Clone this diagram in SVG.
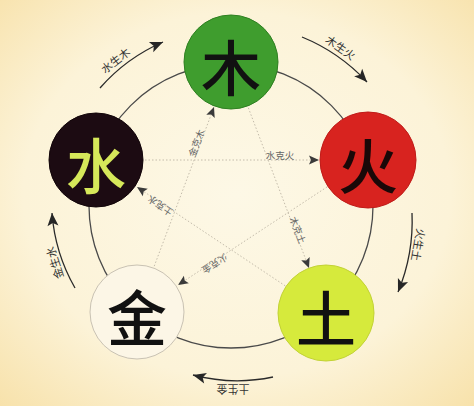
<svg xmlns="http://www.w3.org/2000/svg" width="474" height="406" viewBox="0 0 474 406">
<defs>
<radialGradient id="bg" cx="50%" cy="48%" r="75%">
<stop offset="0" stop-color="#fdf8e6"/>
<stop offset="0.6" stop-color="#fcf3d8"/>
<stop offset="1" stop-color="#f7e0a6"/>
</radialGradient>
<marker id="ah" viewBox="-14 -6 15 12" refX="0" refY="0" markerWidth="15" markerHeight="12" markerUnits="userSpaceOnUse" orient="auto">
<path d="M0,0 L-13,-5.5 L-10,0 L-13,5.5 Z" fill="#262626"/>
</marker>
<marker id="ahs" viewBox="-11 -5 12 10" refX="0" refY="0" markerWidth="12" markerHeight="10" markerUnits="userSpaceOnUse" orient="auto">
<path d="M0,0 L-10,-4.5 L-8,0 L-10,4.5 Z" fill="#3a3a3a"/>
</marker>
</defs>
<style>
.ring{fill:none;stroke:#4a4a4a;stroke-width:1.3}
.gen{fill:none;stroke:#2a2a2a;stroke-width:1.3;marker-end:url(#ah)}
.ctl{fill:none;stroke:#c4bcab;stroke-width:1;stroke-dasharray:1.5 2;marker-end:url(#ahs)}
.gl{font-family:"Noto Sans CJK SC","Noto Sans CJK JP",sans-serif;font-size:11px;fill:#333;text-anchor:middle;dominant-baseline:central}
.cl{font-family:"Noto Sans CJK SC","Noto Sans CJK JP",sans-serif;font-size:9.5px;fill:#666;text-anchor:middle;dominant-baseline:central}
.big{font-family:"Noto Sans CJK SC","Noto Sans CJK JP",sans-serif;font-size:60px;font-weight:500;text-anchor:middle;dominant-baseline:central}
</style>
<rect width="474" height="406" fill="url(#bg)"/>
<circle class="ring" cx="231" cy="206" r="142"/>
<g id="connectors">
<line class="ctl" x1="137" y1="312" x2="214" y2="107"/>
<line class="ctl" x1="96" y1="160" x2="319" y2="160"/>
<line class="ctl" x1="231" y1="62" x2="309" y2="268"/>
<line class="ctl" x1="326" y1="313" x2="137" y2="187"/>
<line class="ctl" x1="368" y1="160" x2="178" y2="285"/>
<path class="gen" d="M100,88 A177,177 0 0 1 163,42"/>
<path class="gen" d="M302,37 A183,183 0 0 1 367,82"/>
<path class="gen" d="M412,213 A184,184 0 0 1 398,292"/>
<path class="gen" d="M273,377 A174,174 0 0 1 193,375"/>
<path class="gen" d="M75,288 A177,177 0 0 1 52,213"/>
<text class="gl" transform="translate(115,60) rotate(-38)">水生木</text>
<text class="gl" transform="translate(341,47) rotate(35)">木生火</text>
<text class="gl" transform="translate(419,245) rotate(100)">火生土</text>
<text class="gl" transform="translate(233,390) rotate(180)">土生金</text>
<text class="gl" transform="translate(54,263) rotate(-108)">金生水</text>
<text class="cl" transform="translate(196,143) rotate(-69)">金克木</text>
<text class="cl" transform="translate(280,155)">水克火</text>
<text class="cl" transform="translate(298,230) rotate(69)">木克土</text>
<text class="cl" transform="translate(160,206) rotate(-146)">土克水</text>
<text class="cl" transform="translate(215,264) rotate(147)">火克金</text>
</g>
<g id="wood">
<circle cx="231" cy="62" r="47" fill="#3f9d2e" stroke="#2f8022" stroke-width="1"/>
<text class="big" x="231" y="64" fill="#111">木</text>
</g>
<g id="fire">
<circle cx="368" cy="160" r="48" fill="#d8231f" stroke="#bf1b18" stroke-width="1"/>
<text class="big" x="368" y="162" fill="#1a0808">火</text>
</g>
<g id="earth">
<circle cx="326" cy="313" r="48" fill="#d6ea3c" stroke="#c2d235" stroke-width="1"/>
<text class="big" x="326" y="315" fill="#111">土</text>
</g>
<g id="metal">
<circle cx="137" cy="312" r="47" fill="#fcf6e6" stroke="#c9c2b3" stroke-width="1"/>
<text class="big" x="137" y="314" fill="#111">金</text>
</g>
<g id="water">
<circle cx="96" cy="160" r="47" fill="#1c0b12" stroke="#120509" stroke-width="1"/>
<text class="big" x="96" y="162" fill="#d6e85a">水</text>
</g>
</svg>
